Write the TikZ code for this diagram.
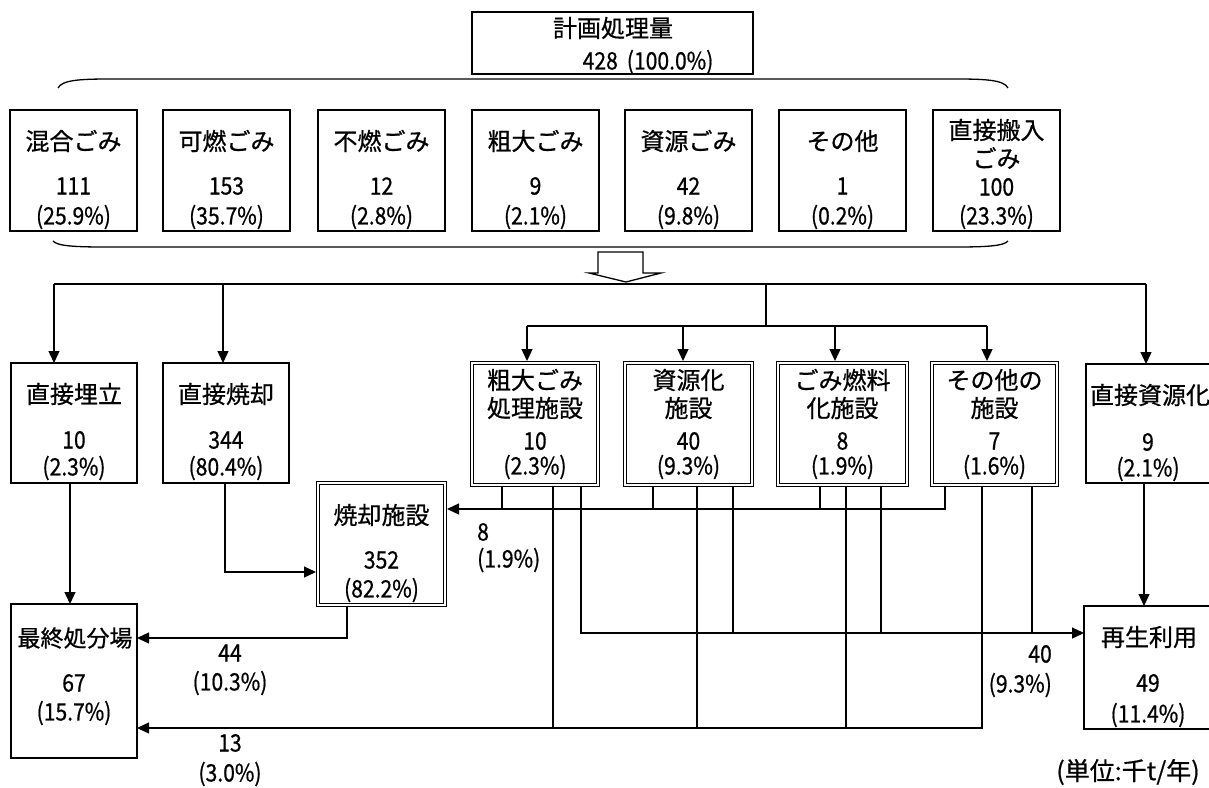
\documentclass[tikz,border=0pt]{standalone}
\usepackage{fontspec}
\setmainfont{Noto Sans CJK JP}[FakeBold=0.7]
\newfontfamily\numfont{Noto Sans CJK JP}[FakeBold=0.7, FakeStretch=0.88]
\usetikzlibrary{arrows.meta}
\newcommand{\BX}[6]{\node[#1, minimum width={(#5)-(#3)}, minimum height={(#6)-(#4)}] (#2) at ({((#3)+(#5))/2},{((#4)+(#6))/2}) {};}
\newcommand{\FX}[6]{\node[#1, minimum width={(#5)-(#3)-4.4}, minimum height={(#6)-(#4)-4.4}] (#2) at ({((#3)+(#5))/2},{((#4)+(#6))/2}) {};}
\newcommand{\TX}[5]{\node[#4] (#1) at (#2,#3) {#5};}
\begin{document}
\begin{tikzpicture}[x=1pt,y=-1pt,
  box/.style={draw, line width=1.5pt, inner sep=0pt, outer sep=0pt, rectangle},
  fac/.style={draw, double, line width=1.1pt, double distance=2.2pt, inner sep=0pt, outer sep=2.2pt, rectangle},
  lbl/.style={font=\fontsize{24}{28}\selectfont, inner sep=0pt, align=center},
  num/.style={font=\numfont\fontsize{24}{28}\selectfont, inner sep=0pt},
  conn/.style={line width=1.3pt},
  arr/.style={conn, -{Triangle[length=12pt,width=11pt]}}]
\useasboundingbox (0,0) rectangle (1209,787);
\clip (0,0) rectangle (1209,787);

% top box
\BX{box}{total}{472}{12}{753}{74}
\TX{ttl}{613}{28}{lbl}{計画処理量}
\TX{ttn}{648}{62}{num}{428\kern9pt(100.0\%)}

% braces
\draw[line width=1.3pt] (58,88) .. controls (62,80) and (80,79) .. (110,79) -- (956,79) .. controls (986,79) and (1004,80) .. (1008,88);
\draw[line width=1.3pt] (53,241) .. controls (57,246) and (75,247) .. (105,247) -- (956,247) .. controls (986,247) and (1004,246) .. (1008,241);

% row 1
\BX{box}{mix}{10}{110}{137}{231}
\BX{box}{kanen}{163}{110}{290}{231}
\BX{box}{funen}{318}{110}{445}{231}
\BX{box}{sodaig}{472}{110}{599}{231}
\BX{box}{shigeng}{625}{110}{752}{231}
\BX{box}{sonota}{779}{110}{906}{231}
\BX{box}{chokunyu}{933}{110}{1060}{231}
\TX{a1}{73.5}{141}{lbl}{混合ごみ}
\TX{a2}{73.5}{186}{num}{111}
\TX{a3}{73.5}{217}{num}{(25.9\%)}
\TX{b1}{226.5}{141}{lbl}{可燃ごみ}
\TX{b2}{226.5}{186}{num}{153}
\TX{b3}{226.5}{217}{num}{(35.7\%)}
\TX{c1}{381.5}{141}{lbl}{不燃ごみ}
\TX{c2}{381.5}{186}{num}{12}
\TX{c3}{381.5}{217}{num}{(2.8\%)}
\TX{e1}{535.5}{141}{lbl}{粗大ごみ}
\TX{e2}{535.5}{186}{num}{9}
\TX{e3}{535.5}{217}{num}{(2.1\%)}
\TX{g1}{688.5}{141}{lbl}{資源ごみ}
\TX{g2}{688.5}{186}{num}{42}
\TX{g3}{688.5}{217}{num}{(9.8\%)}
\TX{h1}{842.5}{141}{lbl}{その他}
\TX{h2}{842.5}{186}{num}{1}
\TX{h3}{842.5}{217}{num}{(0.2\%)}
\TX{i1}{996.5}{130}{lbl}{直接搬入}
\TX{i1b}{996.5}{158}{lbl}{ごみ}
\TX{i2}{996.5}{187}{num}{100}
\TX{i3}{996.5}{217}{num}{(23.3\%)}

% block arrow
\draw[line width=1.3pt, fill=white] (598,252) -- (643,252) -- (643,273) -- (661,273) -- (626,282) -- (589,273) -- (598,273) -- cycle;

% row 2 boxes
\BX{box}{umetate}{11}{363}{137}{483}
\BX{box}{shokyaku}{163}{363}{289}{483}
\BX{box}{shigenka}{1086}{364}{1216}{483}
\FX{fac}{sodaif}{470}{361}{600}{487}
\FX{fac}{shigenf}{623}{361}{754}{487}
\FX{fac}{nenryo}{776}{361}{909}{487}
\FX{fac}{sonotaf}{930}{361}{1059}{487}
\FX{fac}{shokuf}{316}{481}{447}{607}
\BX{box}{saishu}{11}{604}{137}{758}
\BX{box}{saisei}{1084}{606}{1216}{729}

\TX{u1t}{74}{394}{lbl}{直接埋立}
\TX{u2t}{74}{440}{num}{10}
\TX{u3t}{74}{468}{num}{(2.3\%)}
\TX{k1t}{226}{394}{lbl}{直接焼却}
\TX{k2t}{226}{440}{num}{344}
\TX{k3t}{226}{468}{num}{(80.4\%)}
\TX{r1t}{1150}{395}{lbl}{直接資源化}
\TX{r2t}{1148}{442}{num}{9}
\TX{r3t}{1148}{469}{num}{(2.1\%)}
\TX{f1a}{535}{380}{lbl}{粗大ごみ}
\TX{f1b}{535}{408}{lbl}{処理施設}
\TX{f1c}{535}{441}{num}{10}
\TX{f1d}{535}{467}{num}{(2.3\%)}
\TX{f2a}{688.5}{380}{lbl}{資源化}
\TX{f2b}{688.5}{408}{lbl}{施設}
\TX{f2c}{688.5}{441}{num}{40}
\TX{f2d}{688.5}{467}{num}{(9.3\%)}
\TX{f3a}{842.5}{380}{lbl}{ごみ燃料}
\TX{f3b}{842.5}{408}{lbl}{化施設}
\TX{f3c}{842.5}{441}{num}{8}
\TX{f3d}{842.5}{467}{num}{(1.9\%)}
\TX{f4a}{994.5}{380}{lbl}{その他の}
\TX{f4b}{994.5}{408}{lbl}{施設}
\TX{f4c}{994.5}{441}{num}{7}
\TX{f4d}{994.5}{467}{num}{(1.6\%)}
\TX{s1t}{381.5}{515}{lbl}{焼却施設}
\TX{s2t}{381.5}{560}{num}{352}
\TX{s3t}{381.5}{590}{num}{(82.2\%)}
\TX{z1t}{75}{638}{lbl,font=\fontsize{23}{27}\selectfont}{最終処分場}
\TX{z2t}{74}{683}{num}{67}
\TX{z3t}{74}{713}{num}{(15.7\%)}
\TX{q1t}{1149}{637}{lbl}{再生利用}
\TX{q2t}{1148}{683}{num}{49}
\TX{q3t}{1148}{715}{num}{(11.4\%)}

% distribution
\coordinate (d0) at (54,284);
\coordinate (d1) at (223,284);
\coordinate (d2) at (766,284);
\coordinate (d3) at (1146,284);
\coordinate (d2b) at (766,326);
\coordinate (g1) at (527,326);
\coordinate (g2) at (683,326);
\coordinate (g3) at (835,326);
\coordinate (g4) at (987,326);
\draw[conn] (d0) -- (d3);
\draw[arr] (d0) -- (d0 |- umetate.north);
\draw[arr] (d1) -- (d1 |- shokyaku.north);
\draw[arr] (d3) -- (d3 |- shigenka.north);
\draw[conn] (d2) -- (d2b);
\draw[conn] (g1) -- (g4);
\draw[arr] (g1) -- (g1 |- sodaif.north);
\draw[arr] (g2) -- (g2 |- shigenf.north);
\draw[arr] (g3) -- (g3 |- nenryo.north);
\draw[arr] (g4) -- (g4 |- sonotaf.north);

% flows
\coordinate (v1) at (70,500);
\draw[arr] (v1 |- umetate.south) -- (v1 |- saishu.north);
\coordinate (v2) at (225,572);
\draw[arr] (v2 |- shokyaku.south) |- (shokuf.west |- v2);
\coordinate (v3) at (347,638);
\draw[arr] (v3 |- shokuf.south) |- (saishu.east |- v3);
\coordinate (v4) at (1144,550);
\draw[arr] (v4 |- shigenka.south) -- (v4 |- saisei.north);

% bus 8
\coordinate (b8) at (945,509);
\coordinate (b8a) at (502,509);
\coordinate (b8b) at (653,509);
\coordinate (b8c) at (820,509);
\draw[arr] (b8 |- sonotaf.south) -- (b8) -- (shokuf.east |- b8);
\draw[conn] (b8a |- sodaif.south) -- (b8a);
\draw[conn] (b8b |- shigenf.south) -- (b8b);
\draw[conn] (b8c |- nenryo.south) -- (b8c);

% bus 40
\coordinate (b40) at (581,633);
\coordinate (b40a) at (733,633);
\coordinate (b40b) at (881,633);
\coordinate (b40c) at (1032,633);
\draw[arr] (b40 |- sodaif.south) -- (b40) -- (saisei.west |- b40);
\draw[conn] (b40a |- shigenf.south) -- (b40a);
\draw[conn] (b40b |- nenryo.south) -- (b40b);
\draw[conn] (b40c |- sonotaf.south) -- (b40c);

% bus 13
\coordinate (b13) at (982,728);
\coordinate (b13a) at (553,728);
\coordinate (b13b) at (697,728);
\coordinate (b13c) at (846,728);
\draw[arr] (b13 |- sonotaf.south) -- (b13) -- (saishu.east |- b13);
\draw[conn] (b13a |- sodaif.south) -- (b13a);
\draw[conn] (b13b |- shigenf.south) -- (b13b);
\draw[conn] (b13c |- nenryo.south) -- (b13c);

% flow labels
\TX{l44}{230}{653}{num}{44}
\TX{l44p}{230}{683}{num}{(10.3\%)}
\TX{l13}{230}{743}{num}{13}
\TX{l13p}{230}{774}{num}{(3.0\%)}
\TX{l8}{477}{532}{num,anchor=west}{8}
\TX{l8p}{477}{560}{num,anchor=west}{(1.9\%)}
\TX{l40}{1052}{654}{num,anchor=east}{40}
\TX{l40p}{1052}{685}{num,anchor=east}{(9.3\%)}
\TX{unit}{1128}{772}{lbl,font=\fontsize{25}{28}\selectfont}{(単位:千t/年)}
\end{tikzpicture}
\end{document}
